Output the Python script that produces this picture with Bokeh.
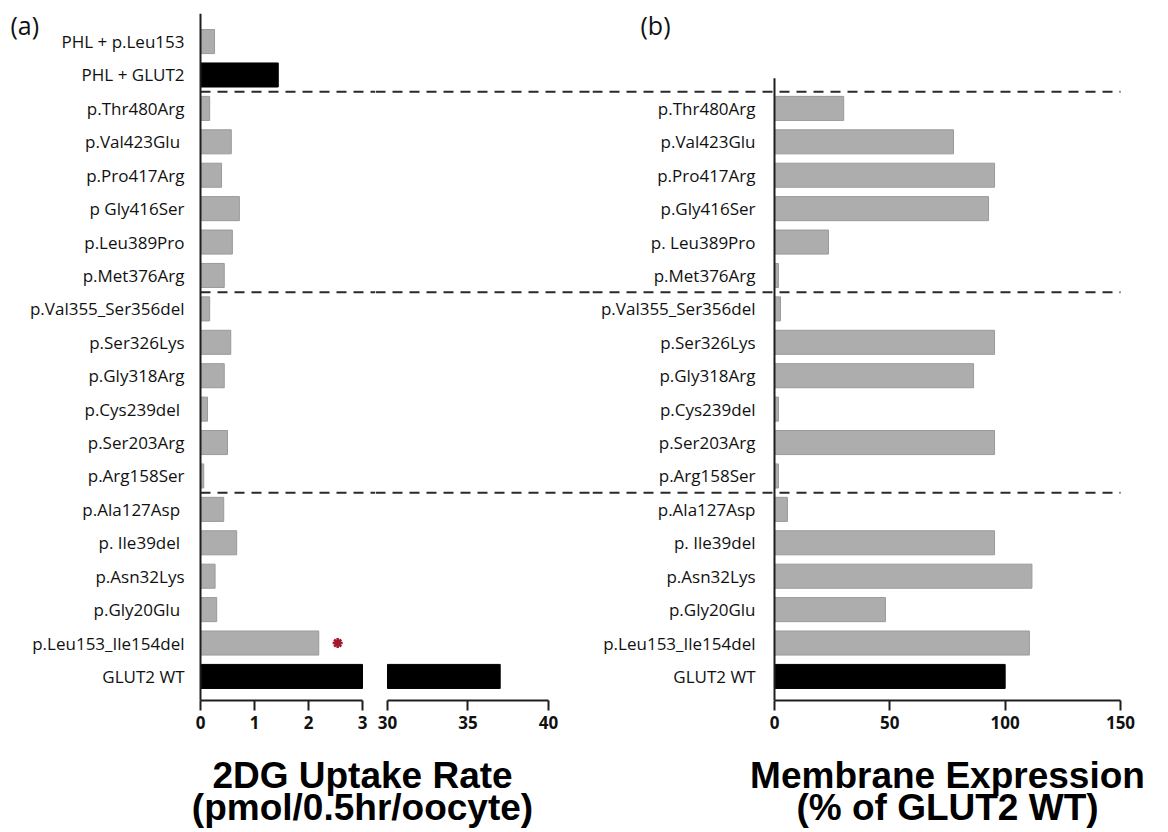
import numpy as np
from bokeh.plotting import figure
from bokeh.layouts import column, row
from bokeh.models import Range1d, FixedTicker, Span, ColumnDataSource
from bokeh.core.properties import value
from bokeh.embed import file_html
from bokeh.resources import INLINE

# ---------------- data (top row first, as in the picture) ----------------
uptake_labels = ["PHL + p.Leu153", "PHL + GLUT2", "p.Thr480Arg", "p.Val423Glu ",
                 "p.Pro417Arg", "p Gly416Ser", "p.Leu389Pro", "p.Met376Arg",
                 "p.Val355_Ser356del", "p.Ser326Lys", "p.Gly318Arg", "p.Cys239del ",
                 "p.Ser203Arg", "p.Arg158Ser", "p.Ala127Asp ", "p. Ile39del ",
                 "p.Asn32Lys", "p.Gly20Glu ", "p.Leu153_Ile154del", "GLUT2 WT"]
uptake_values = [0.26, 1.44, 0.17, 0.57, 0.39, 0.72, 0.59, 0.44,
                 0.17, 0.56, 0.44, 0.13, 0.50, 0.06, 0.43, 0.67,
                 0.27, 0.30, 2.19, 37.0]

membrane_labels = ["p.Thr480Arg", "p.Val423Glu", "p.Pro417Arg", "p.Gly416Ser",
                   "p. Leu389Pro", "p.Met376Arg", "p.Val355_Ser356del", "p.Ser326Lys",
                   "p.Gly318Arg", "p.Cys239del", "p.Ser203Arg", "p.Arg158Ser",
                   "p.Ala127Asp", "p. Ile39del", "p.Asn32Lys", "p.Gly20Glu",
                   "p.Leu153_Ile154del", "GLUT2 WT"]
membrane_values = [30.0, 77.6, 95.4, 92.8, 23.4, 1.7, 2.6, 95.4, 86.3, 1.7,
                   95.4, 1.7, 5.6, 95.4, 111.6, 48.1, 110.5, 100.0]

row_group = ["PHL"] * 2 + ["group 1"] * 6 + ["group 2"] * 6 + ["group 3"] * 6
control_rows = ["PHL + GLUT2", "GLUT2 WT"]
significant_rows = ["p.Leu153_Ile154del"]

uptake_ticks_low = [0, 1, 2, 3]
uptake_ticks_high = [30, 35, 40]
uptake_break = (3, 30)
membrane_ticks = [0, 50, 100, 150]

title_left = ["2DG Uptake Rate", "(pmol/0.5hr/oocyte)"]
title_right = ["Membrane Expression", "(% of GLUT2 WT)"]

# ---------------- styling ----------------
GREY = "#adadad"
GREY_EDGE = "#9a9a9a"
BLACK = "#000000"
AXIS = "#1e1e1e"
LABEL_FONT = value("Open Sans")
TICK_FONT = "Open Sans"
TITLE_FONT = value("Liberation Sans")
BAR_H = 0.72

n = len(uptake_labels)
y_up = [n - 1 - i for i in range(n)]
m = len(membrane_labels)
y_mem = [m - 1 - j for j in range(m)]


def colour(lbl):
    return BLACK if lbl.strip() in control_rows else GREY


def edge(lbl):
    return BLACK if lbl.strip() in control_rows else GREY_EDGE


breaks = [(y_up[i] + y_up[i + 1]) / 2 for i in range(n - 1) if row_group[i] != row_group[i + 1]]

y_lo, y_hi = -0.72, n - 1 + 0.84


def base_fig(width, xr):
    p = figure(width=width, height=737, x_range=xr, y_range=Range1d(y_lo, y_hi),
               output_backend="svg", toolbar_location=None, y_axis_location=None,
               title=None, min_border_left=0, min_border_right=0,
               min_border_top=13, min_border_bottom=37)
    p.outline_line_color = None
    p.grid.visible = False
    p.background_fill_color = "white"
    p.border_fill_color = "white"
    ax = p.xaxis[0]
    ax.axis_line_color = AXIS
    ax.axis_line_width = 2
    ax.major_tick_line_color = AXIS
    ax.major_tick_line_width = 2
    ax.major_tick_out = 10
    ax.major_tick_in = 0
    ax.minor_tick_line_color = None
    ax.major_label_text_font = TICK_FONT
    ax.major_label_text_font_size = "17px"
    ax.major_label_text_font_style = "bold"
    ax.major_label_text_color = "#111111"
    ax.major_label_standoff = 5
    return p


# ---------------- panel (a), low segment ----------------
A = base_fig(375, Range1d(-3.7037, 3.2407))
A.xaxis[0].bounds = (0, uptake_break[0])
A.xaxis[0].ticker = FixedTicker(ticks=uptake_ticks_low)

src_a = ColumnDataSource(dict(
    y=y_up,
    right=np.minimum(uptake_values, uptake_break[0]),
    fill=[colour(l) for l in uptake_labels],
    edge=[edge(l) for l in uptake_labels],
    label=uptake_labels,
))
A.hbar(y="y", left=0, right="right", height=BAR_H, fill_color="fill",
       line_color="edge", line_width=1, source=src_a)
A.add_layout(Span(location=0, dimension="height", line_color=AXIS, line_width=2))
for yb in breaks:
    A.segment(x0=0, x1=A.x_range.end, y0=yb, y1=yb, line_color="#2a2a2a",
              line_width=2, line_dash="10 7")
A.text(x=0, y="y", text="label", source=src_a, x_offset=-16, text_align="right",
       text_baseline="middle", text_font=LABEL_FONT, text_font_size="17px",
       text_color="#111111")
sig_y = [y_up[uptake_labels.index(s)] for s in significant_rows]
sig_x = [uptake_values[uptake_labels.index(s)] + 0.35 for s in significant_rows]
A.scatter(x=sig_x, y=sig_y, marker="asterisk", size=10, line_color="#a3162b",
          line_width=2.5)
A.text(x=[A.x_range.start], y=[y_hi - 0.34], text=["(a)"], x_offset=10,
       text_align="left", text_baseline="middle", text_font=LABEL_FONT,
       text_font_size="25px", text_color="#111111")

# ---------------- panel (a), high segment ----------------
B = base_fig(217, Range1d(29.255, 42.733))
B.xaxis[0].bounds = (uptake_break[1], uptake_ticks_high[-1])
B.xaxis[0].ticker = FixedTicker(ticks=uptake_ticks_high)
hi_idx = [i for i, v in enumerate(uptake_values) if v > uptake_break[1]]
src_b = ColumnDataSource(dict(
    y=[y_up[i] for i in hi_idx],
    right=[uptake_values[i] for i in hi_idx],
    fill=[colour(uptake_labels[i]) for i in hi_idx],
))
B.hbar(y="y", left=uptake_break[1], right="right", height=BAR_H,
       fill_color="fill", line_color="fill", source=src_b)
for yb in breaks:
    B.add_layout(Span(location=yb, dimension="width", line_color="#2a2a2a",
                      line_width=2, line_dash="10 7"))

# ---------------- panel (b) ----------------
C = base_fig(568, Range1d(-78.90, 167.34))
C.xaxis[0].bounds = (membrane_ticks[0], membrane_ticks[-1])
C.xaxis[0].ticker = FixedTicker(ticks=membrane_ticks)
src_c = ColumnDataSource(dict(
    y=y_mem,
    right=membrane_values,
    fill=[colour(l) for l in membrane_labels],
    edge=[edge(l) for l in membrane_labels],
    label=membrane_labels,
))
C.hbar(y="y", left=0, right="right", height=BAR_H, fill_color="fill",
       line_color="edge", line_width=1, source=src_c)
C.segment(x0=0, x1=0, y0=y_lo, y1=m - 1 + 0.9, line_color=AXIS, line_width=2)
for yb in breaks:
    C.segment(x0=C.x_range.start, x1=membrane_ticks[-1], y0=yb, y1=yb,
              line_color="#2a2a2a", line_width=2, line_dash="10 7")
C.text(x=0, y="y", text="label", source=src_c, x_offset=-19, text_align="right",
       text_baseline="middle", text_font=LABEL_FONT, text_font_size="17px",
       text_color="#111111")
C.text(x=[C.x_range.start], y=[y_hi - 0.34], text=["(b)"], x_offset=48,
       text_align="left", text_baseline="middle", text_font=LABEL_FONT,
       text_font_size="25px", text_color="#111111")

# ---------------- axis titles ----------------
T = figure(width=1160, height=92, x_range=Range1d(0, 1160), y_range=Range1d(829, 737),
           output_backend="svg", toolbar_location=None, x_axis_location=None,
           y_axis_location=None, title=None, min_border=0)
T.outline_line_color = None
T.grid.visible = False
T.text(x=[362, 362, 947, 947], y=[775, 807, 775, 807],
       text=[title_left[0], title_left[1], title_right[0], title_right[1]],
       text_align="center", text_baseline="alphabetic", text_font=TITLE_FONT,
       text_font_style="bold", text_font_size="37px", text_color="#000000")

layout = column(row(A, B, C, spacing=0), T, spacing=0)
open("out.html", "w").write(file_html(layout, INLINE))
